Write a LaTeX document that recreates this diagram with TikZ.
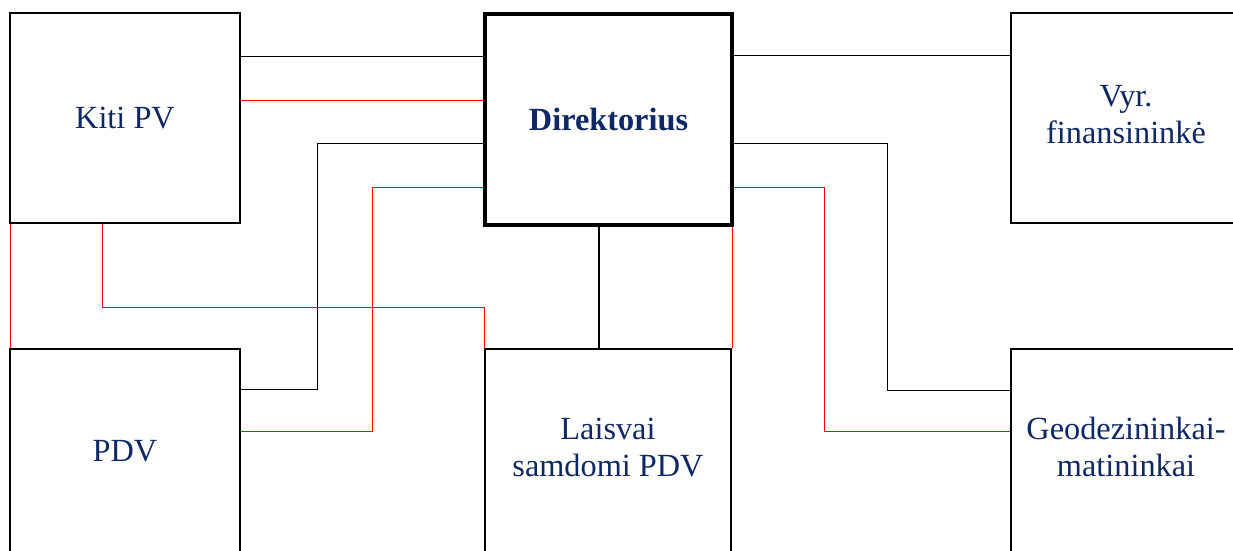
\documentclass[tikz,border=0pt]{standalone}
\usepackage{fontspec}
\setmainfont{Liberation Serif}
\usetikzlibrary{calc}
\definecolor{navy}{RGB}{14,40,102}
\tikzset{
  box/.style={draw=black, line width=1.4pt, rectangle, inner sep=0pt, align=center,
    text=navy, font=\fontsize{32.3}{37}\selectfont},
  mainbox/.style={box, line width=3.6pt, font=\fontsize{32.3}{37}\selectfont\bfseries},
  conn/.style={draw=black, line width=1.1pt},
  rconn/.style={draw=red, line width=1.3pt}
}
\begin{document}
\begin{tikzpicture}[x=1pt,y=-1pt]
\useasboundingbox (0,0) rectangle (1233,550);
\clip (0,0) rectangle (1233,550);
% boxes
\node[box, minimum width=230pt, minimum height=210pt] (kiti) at (125,118) {Kiti PV};
\node[box, minimum width=230pt, minimum height=204pt] (pdv) at (125,451) {PDV};
\node[mainbox, minimum width=247pt, minimum height=211pt] (dir) at (608.5,119.5) {Direktorius};
\node[box, minimum width=246pt, minimum height=204pt] (lais) at (608,451) {\raisebox{-1pt}{\begin{tabular}{@{}c@{}}Laisvai\\samdomi PDV\end{tabular}}};
\node[box, minimum width=230pt, minimum height=210pt] (vyr) at (1126,118) {\raisebox{-3pt}{\begin{tabular}{@{}c@{}}Vyr.\\finansininkė\end{tabular}}};
\node[box, minimum width=230pt, minimum height=204pt] (geo) at (1126,451) {\raisebox{-1pt}{\begin{tabular}{@{}c@{}}Geodezininkai-\\matininkai\end{tabular}}};
% black connectors
\draw[conn] ($(kiti.north east)+(0,44)$) coordinate (b1) -- (b1 -| dir.west);
\draw[conn] ($(dir.north east)+(0,43)$) coordinate (b2) -- (b2 -| vyr.west);
\draw[conn] ($(dir.north west)+(0,131)$) -- ++(-166,0) |- ($(pdv.north east)+(0,41)$);
\draw[conn] ($(dir.north east)+(0,131)$) -- ++(154,0) |- ($(geo.north west)+(0,42)$);
\draw[conn] ($(dir.south)+(-9.5,0)$) coordinate (b5) -- (b5 |- lais.north);
% red connectors
\draw[rconn] ($(kiti.north east)+(0,88)$) coordinate (r1) -- (r1 -| dir.west);
\draw[rconn] ($(dir.north west)+(0,175)$) -- ++(-111,0) |- ($(pdv.north east)+(0,83)$);
\draw[rconn] ($(dir.north east)+(0,175)$) -- ++(91,0) |- ($(geo.north west)+(0,83)$);
\draw[rconn] ($(kiti.south west)+(93,0)$) |- ($(lais.north west)+(0,-41)$) -- (lais.north west);
\draw[rconn] ($(kiti.south west)+(1,0)$) coordinate (r5) -- (r5 |- pdv.north);
\draw[rconn] ($(dir.south east)+(-1,0)$) coordinate (r6) -- (r6 |- lais.north);
\end{tikzpicture}
\end{document}
